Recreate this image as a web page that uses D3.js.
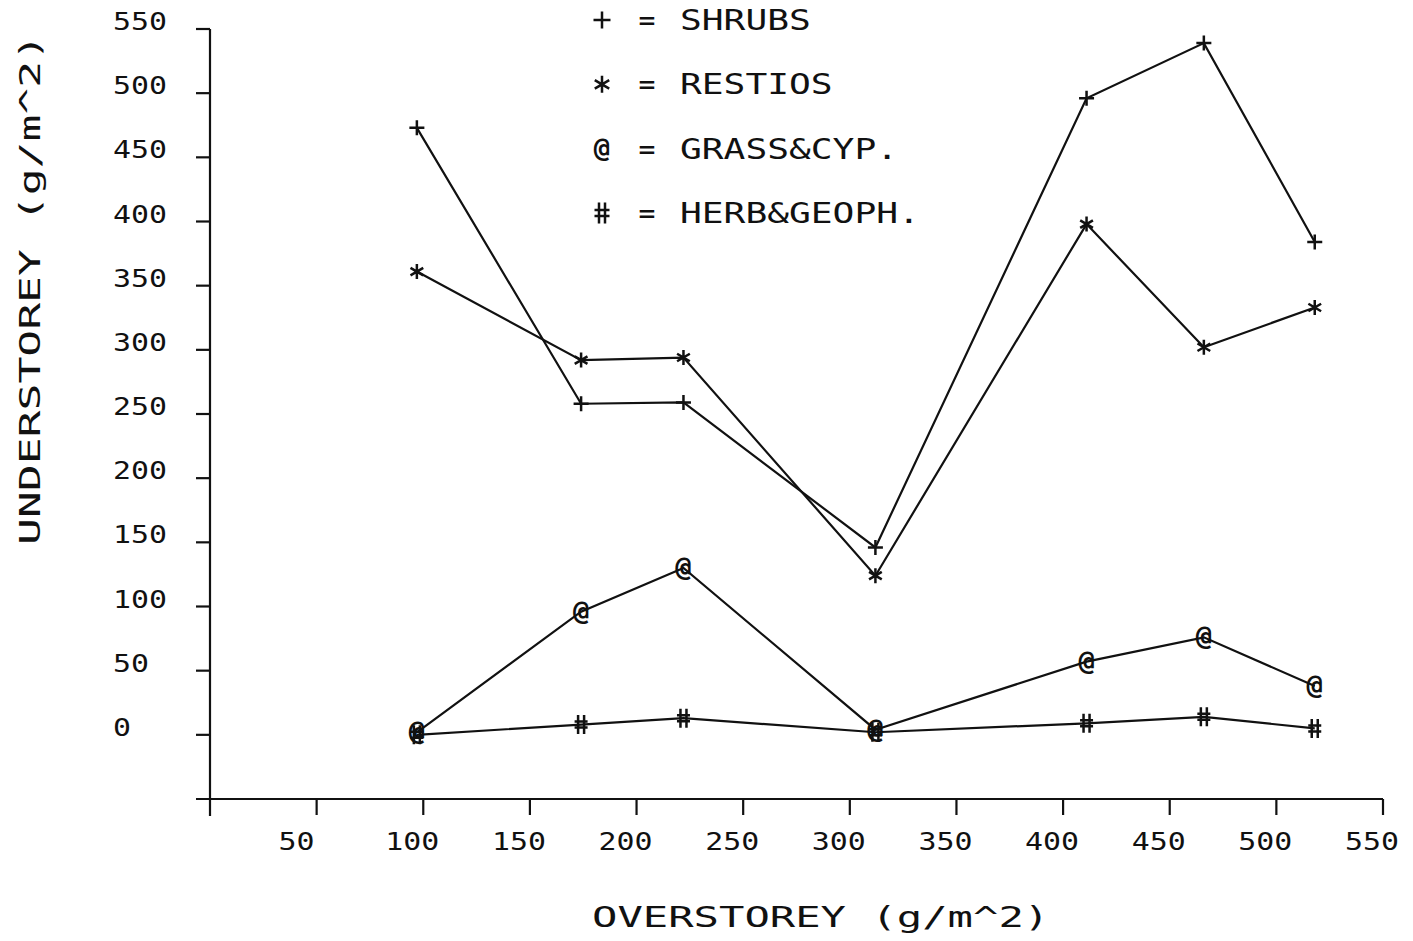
<!DOCTYPE html>
<html>
<head>
<meta charset="utf-8">
<script src="https://cdn.jsdelivr.net/npm/d3@7"></script>
<style>
  body { margin: 0; background: #fff; }
  text { font-family: "DejaVu Sans Mono", monospace; fill: #111; }
</style>
</head>
<body>
<div id="chart"></div>
<script>
// values
var overstorey = [97, 174, 222, 312, 411, 466, 518];
var shrubs = [473, 258, 259, 146, 496, 539, 384];
var restios = [361, 292, 294, 124, 398, 302, 333];
var grassCyp = [2, 96, 130, 4, 57, 76, 38];
var herbGeoph = [0, 8, 13, 2, 9, 14, 5];

var seriesNames = ["SHRUBS", "RESTIOS", "GRASS&CYP.", "HERB&GEOPH."];
var seriesSymbols = ["+", "*", "@", "#"];
var xTicks = [50, 100, 150, 200, 250, 300, 350, 400, 450, 500, 550];
var yTicks = [0, 50, 100, 150, 200, 250, 300, 350, 400, 450, 500, 550];

var width = 1413,
  height = 941,
  ink = "#111";

var svg = d3.select("#chart").append("svg")
  .attr("width", width)
  .attr("height", height);

var x = d3.scaleLinear().domain([0, 550]).range([210, 1383]);
var y = d3.scaleLinear().domain([-50, 550]).range([799, 29]);

// stretch plotter-like text to a fixed cell width per character
function fit(sel, charW) {
  sel.attr("textLength", function (d) { return String(d).length * charW; })
    .attr("lengthAdjust", "spacingAndGlyphs");
}

// marker shapes drawn as strokes
function markerPath(sym, s) {
  if (sym == "+") return "M" + (-s) + ",0H" + s + "M0," + (-s) + "V" + s;
  if (sym == "*") return "M0," + (-s) + "V" + s +
    "M" + (-s * 0.85) + "," + (-s * 0.5) + "L" + (s * 0.85) + "," + (s * 0.5) +
    "M" + (-s * 0.85) + "," + (s * 0.5) + "L" + (s * 0.85) + "," + (-s * 0.5);
  if (sym == "#") return "M-3," + (-s - 2) + "V" + (s + 2) + "M3," + (-s - 2) + "V" + (s + 2) +
    "M" + (-s + 1) + ",-3H" + (s - 1) + "M" + (-s + 1) + ",3H" + (s - 1);
  return "";
}

function drawMarker(g, sym, cx, cy, s) {
  if (sym == "@") {
    g.append("text")
      .attr("x", cx)
      .attr("y", cy + 8)
      .attr("text-anchor", "middle")
      .style("font-size", "27px")
      .style("font-weight", "bold")
      .text("@");
  } else {
    g.append("path")
      .attr("transform", "translate(" + cx + "," + cy + ")")
      .attr("d", markerPath(sym, s))
      .attr("fill", "none")
      .attr("stroke", ink)
      .attr("stroke-width", 2.5);
  }
}

// axes
var axes = svg.append("g").attr("stroke", ink).attr("stroke-width", 2.2);
axes.append("line")
  .attr("x1", x(0)).attr("x2", x(0))
  .attr("y1", y(550)).attr("y2", y(-50) + 17);
axes.append("line")
  .attr("x1", x(0) - 14).attr("x2", x(550))
  .attr("y1", y(-50)).attr("y2", y(-50));

axes.selectAll(".ytick")
  .data(yTicks)
  .enter()
  .append("line")
  .attr("x1", x(0) - 14)
  .attr("x2", x(0))
  .attr("y1", function (d) { return y(d); })
  .attr("y2", function (d) { return y(d); });

axes.selectAll(".xtick")
  .data(xTicks)
  .enter()
  .append("line")
  .attr("x1", function (d) { return x(d); })
  .attr("x2", function (d) { return x(d); })
  .attr("y1", y(-50))
  .attr("y2", y(-50) + 16);

svg.selectAll(".ylab")
  .data(yTicks)
  .enter()
  .append("text")
  .attr("x", 113)
  .attr("y", function (d) { return y(d) + 1; })
  .style("font-size", "24px")
  .text(function (d) { return d; })
  .call(fit, 18);

svg.selectAll(".xlab")
  .data(xTicks)
  .enter()
  .append("text")
  .attr("x", function (d) { return x(d) - 38; })
  .attr("y", 850)
  .style("font-size", "24px")
  .text(function (d) { return d; })
  .call(fit, 18);

// axis titles
svg.append("text")
  .datum("OVERSTOREY (g/m^2)")
  .attr("x", 592)
  .attr("y", 927)
  .style("font-size", "28px")
  .text(function (d) { return d; })
  .call(fit, 25.4);

svg.append("text")
  .datum("UNDERSTOREY (g/m^2)")
  .attr("transform", "translate(40,545) rotate(-90)")
  .style("font-size", "29px")
  .text(function (d) { return d; })
  .call(fit, 26.9);

// series lines and markers
var series = [shrubs, restios, grassCyp, herbGeoph];
var line = d3.line()
  .x(function (d, i) { return x(overstorey[i]); })
  .y(function (d) { return y(d); });

series.forEach(function (vals, k) {
  svg.append("path")
    .datum(vals)
    .attr("d", line)
    .attr("fill", "none")
    .attr("stroke", ink)
    .attr("stroke-width", 2.2);
  var g = svg.append("g");
  vals.forEach(function (v, i) {
    drawMarker(g, seriesSymbols[k], x(overstorey[i]), y(v), 7.5);
  });
});

// legend
var legend = svg.append("g");
seriesNames.forEach(function (name, k) {
  var base = 30 + k * 64.3;
  drawMarker(legend, seriesSymbols[k], 602, base - 10, 8.5);
  legend.append("text")
    .attr("x", 647)
    .attr("y", base)
    .attr("text-anchor", "middle")
    .style("font-size", "28px")
    .text("=");
  legend.append("text")
    .datum(name)
    .attr("x", 680)
    .attr("y", base)
    .style("font-size", "28px")
    .text(function (d) { return d; })
    .call(fit, 21.8);
});
</script>
</body>
</html>
